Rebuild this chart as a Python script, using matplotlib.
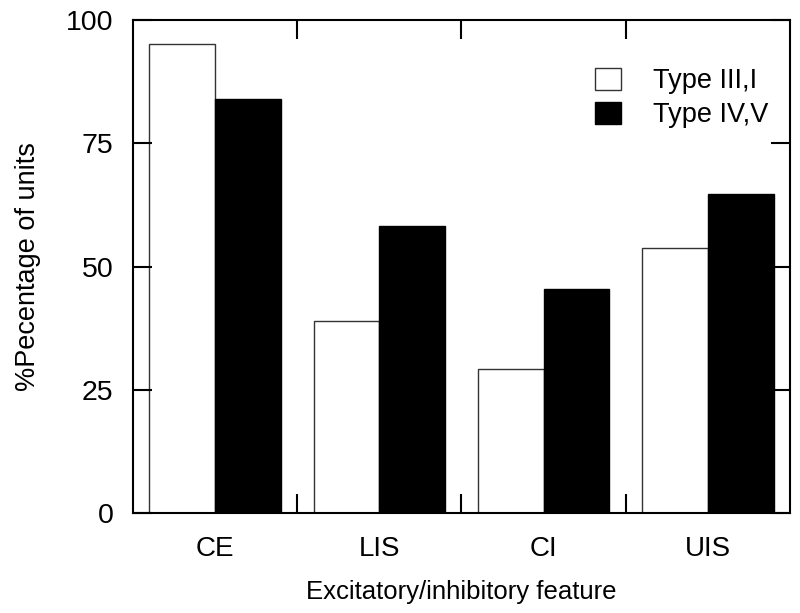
import numpy as np
import matplotlib
matplotlib.use('Agg')
import matplotlib.pyplot as plt
from matplotlib.ticker import FixedLocator

plt.rcParams['font.family'] = ['Liberation Sans', 'DejaVu Sans']

# ---------------- DATA ----------------
features = ['CE', 'LIS', 'CI', 'UIS']
type_3_1 = [95.2, 39.0, 29.3, 53.7]
type_4_5 = [84.0, 58.3, 45.4, 64.7]

# ---------------- PLOT ----------------
fig = plt.figure(figsize=(8.0, 6.13), dpi=100)
ax = fig.add_axes([0.166, 0.1626, 0.8215, 0.805])

x = np.arange(len(features))
w = 0.4
ax.bar(x - w / 2, type_3_1, width=w, color='white', edgecolor='#333333',
       linewidth=1.0, label='Type III,I')
ax.bar(x + w / 2, type_4_5, width=w, color='black', edgecolor='black',
       linewidth=1.0, label='Type IV,V')

ax.set_xlim(-0.5, 3.5)
ax.set_ylim(0, 100)
ax.set_yticks([0, 25, 50, 75, 100])
ax.set_xticks(x)
ax.set_xticklabels(features)
ax.xaxis.set_minor_locator(FixedLocator([0.5, 1.5, 2.5]))

ax.tick_params(axis='x', which='major', length=0, pad=16, labelsize=20)
ax.tick_params(axis='x', which='minor', direction='in', length=14, width=1.5,
               top=True, bottom=True)
ax.tick_params(axis='y', which='major', direction='in', length=14, width=1.5,
               left=True, right=True, pad=14, labelsize=20.5)

for sp in ax.spines.values():
    sp.set_linewidth(1.5)

ax.set_xlabel('Excitatory/inhibitory feature', fontsize=18.5, labelpad=13)
ax.set_ylabel('%Pecentage of units', fontsize=19.5, labelpad=18)

ax.legend(loc='upper left', bbox_to_anchor=(0.683, 0.93), frameon=False,
          fontsize=19.5, handlelength=0.95, handleheight=0.85, handletextpad=1.2,
          labelspacing=0.3, borderpad=0)

fig.savefig('out.png', dpi=100)
